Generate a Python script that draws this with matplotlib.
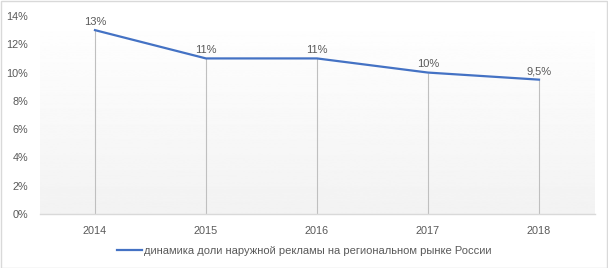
import numpy as np
import matplotlib
matplotlib.use('Agg')
import matplotlib.pyplot as plt
from matplotlib.patches import Rectangle

years = ['2014', '2015', '2016', '2017', '2018']
share = [13, 11, 11, 10, 9.5]
labels = ['13%', '11%', '11%', '10%', '9,5%']
series_name = 'динамика доли наружной рекламы на региональном рынке России'

plt.rcParams['font.family'] = ['Liberation Sans', 'DejaVu Sans']

fig = plt.figure(figsize=(6.08, 2.68), dpi=100)
ax = fig.add_axes([39.5 / 608, 54 / 268, 555 / 608, 198 / 268])

x = np.arange(len(years))
ax.set_xlim(-0.5, len(years) - 0.5)
ax.set_ylim(0, 14)

# gradient background (white top -> light gray bottom)
grad = np.linspace(1.0, 0.95, 256).reshape(-1, 1)
ax.imshow(grad, cmap='gray', vmin=0, vmax=1, aspect='auto',
          extent=[-0.5, len(years) - 0.5, 0, 14], origin='upper', zorder=0)

# drop lines
ax.vlines(x, 0, share, colors='#bfbfbf', linewidth=0.8, zorder=1)
ax.plot(x, share, color='#4472c4', linewidth=1.6, zorder=3, label=series_name)

for xi, v, lab in zip(x, share, labels):
    ax.annotate(lab, (xi, v), xytext=(0, 2.5), textcoords='offset points',
                ha='center', va='bottom', fontsize=8, color='#595959')

ax.set_yticks(np.arange(0, 15, 2))
ax.set_yticklabels([f'{v}%' for v in range(0, 15, 2)])
ax.set_xticks(x)
ax.set_xticklabels(years)
ax.tick_params(axis='both', length=0, labelsize=7.8, labelcolor='#595959')
ax.tick_params(axis='x', pad=9)
ax.tick_params(axis='y', pad=8)
for s in ['top', 'right', 'left']:
    ax.spines[s].set_visible(False)
ax.spines['bottom'].set_color('#d9d9d9')
ax.spines['bottom'].set_linewidth(1)

leg = fig.legend(loc='center', bbox_to_anchor=(0.5, 1 - 251 / 268), frameon=False,
                 fontsize=8, handlelength=2.3, handletextpad=0.1, labelcolor='#595959')

fig.patches.append(Rectangle((0.5 / 608, 0.5 / 268), 606.5 / 608, 266.5 / 268,
                             transform=fig.transFigure, fill=False,
                             edgecolor='#d9d9d9', linewidth=1))

fig.savefig('out.png', dpi=100)
